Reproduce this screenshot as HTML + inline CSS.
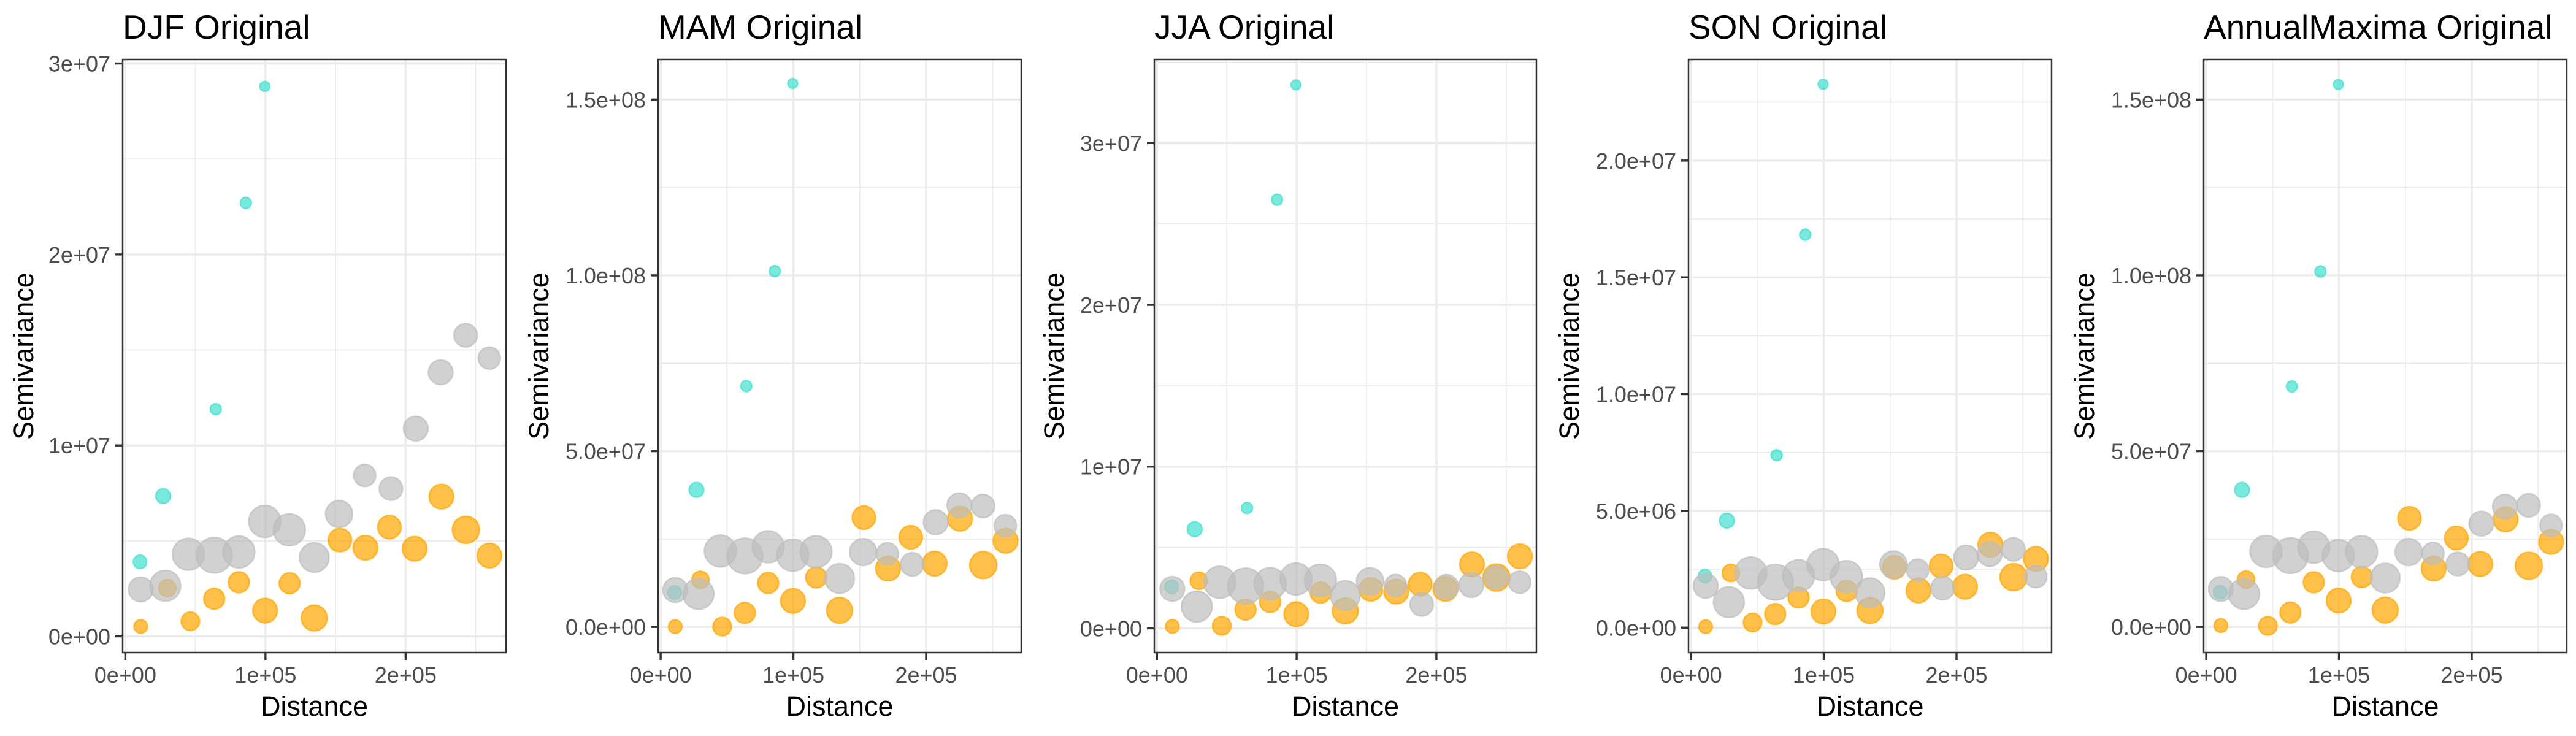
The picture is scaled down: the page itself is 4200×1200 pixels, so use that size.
<!DOCTYPE html>
<html><head><meta charset="utf-8"><style>
html,body{margin:0;padding:0;background:#fff;}
svg{display:block;font-family:"Liberation Sans",Arial,sans-serif;}
</style></head><body>
<svg id="chart" width="4200" height="1200" viewBox="0 0 4200 1200" xmlns="http://www.w3.org/2000/svg"></svg>
<script>
// shared distance bins (x values)
const cyanDist   = [0.105e5, 0.27e5, 0.645e5, 0.86e5, 0.995e5];
const grayDist   = [0.11e5,0.285e5,0.45e5,0.635e5,0.81e5,0.995e5,1.17e5,1.348e5,1.525e5,1.708e5,1.895e5,2.072e5,2.25e5,2.428e5,2.597e5];
const orangeDist = [0.11e5,0.30e5,0.464e5,0.634e5,0.81e5,0.997e5,1.172e5,1.348e5,1.531e5,1.713e5,1.884e5,2.064e5,2.255e5,2.43e5,2.598e5];
// point sizes (radius, px)
const cyanSize   = [11,12,9,9,8];
const graySize   = [20,25,26,29,26,26,26,24,22,18,19,20,20,19,18];
const orangeSize = [11,14,15,17,17,20,17,21,19,20,19,20,20,22,20];

const panelTitles = ["DJF Original","MAM Original","JJA Original","SON Original","AnnualMaxima Original"];

// DJF
const djfCyan   = [0.39e7,0.735e7,1.19e7,2.27e7,2.88e7];
const djfGray   = [0.246e7,0.265e7,0.43e7,0.425e7,0.442e7,0.602e7,0.558e7,0.413e7,0.641e7,0.843e7,0.774e7,1.088e7,1.383e7,1.577e7,1.457e7];
const djfOrange = [0.052e7,0.253e7,0.079e7,0.197e7,0.283e7,0.135e7,0.278e7,0.096e7,0.504e7,0.464e7,0.572e7,0.459e7,0.732e7,0.558e7,0.423e7];
// MAM
const mamCyan   = [0.98e7,3.90e7,6.85e7,10.12e7,15.46e7];
const mamGray   = [1.05e7,0.94e7,2.16e7,2.02e7,2.28e7,2.04e7,2.14e7,1.38e7,2.13e7,2.08e7,1.78e7,2.98e7,3.46e7,3.44e7,2.88e7];
const mamOrange = [0.01e7,1.34e7,0.01e7,0.40e7,1.25e7,0.74e7,1.41e7,0.47e7,3.11e7,1.66e7,2.55e7,1.80e7,3.08e7,1.76e7,2.45e7];
// JJA
const jjaCyan   = [0.256e7,0.613e7,0.744e7,2.65e7,3.36e7];
const jjaGray   = [0.244e7,0.134e7,0.285e7,0.262e7,0.276e7,0.305e7,0.297e7,0.203e7,0.291e7,0.265e7,0.148e7,0.256e7,0.267e7,0.314e7,0.285e7];
const jjaOrange = [0.012e7,0.294e7,0.015e7,0.116e7,0.163e7,0.087e7,0.221e7,0.108e7,0.241e7,0.227e7,0.273e7,0.244e7,0.395e7,0.314e7,0.445e7];
// SON
const sonCyan   = [2.20e6,4.58e6,7.38e6,16.83e6,23.27e6];
const sonGray   = [1.79e6,1.09e6,2.34e6,1.94e6,2.22e6,2.70e6,2.18e6,1.49e6,2.70e6,2.46e6,1.69e6,3.00e6,3.15e6,3.35e6,2.18e6];
const sonOrange = [0.04e6,2.34e6,0.22e6,0.58e6,1.29e6,0.69e6,1.57e6,0.73e6,2.58e6,1.59e6,2.64e6,1.75e6,3.55e6,2.16e6,2.94e6];
// AnnualMaxima
const amCyan    = [0.99e7,3.90e7,6.84e7,10.11e7,15.43e7];
const amGray    = [1.08e7,0.94e7,2.15e7,2.03e7,2.27e7,2.03e7,2.14e7,1.39e7,2.13e7,2.09e7,1.79e7,2.94e7,3.42e7,3.46e7,2.89e7];
const amOrange  = [0.04e7,1.35e7,0.03e7,0.41e7,1.27e7,0.75e7,1.42e7,0.48e7,3.09e7,1.66e7,2.53e7,1.79e7,3.06e7,1.74e7,2.42e7];

// axis ticks
const xTicks = [0, 1e5, 2e5];
const xTickLabels = ["0e+00","1e+05","2e+05"];
const yTicksA = [0,1e7,2e7,3e7];
const yTickLabelsA = ["0e+00","1e+07","2e+07","3e+07"];
const yTicksB = [0,5e7,1e8,1.5e8];
const yTickLabelsB = ["0.0e+00","5.0e+07","1.0e+08","1.5e+08"];
const yTicksC = [0,5e6,1e7,1.5e7,2e7];
const yTickLabelsC = ["0.0e+00","5.0e+06","1.0e+07","1.5e+07","2.0e+07"];
// y domains
const yDomains = [[-0.085e7,3.021e7],[-0.0729e8,1.614e8],[-0.15e7,3.517e7],[-0.107e7,2.433e7],[-0.0729e8,1.614e8]];
const xDomain = [-0.019e5, 2.716e5];

const panels = [
  {cyan:djfCyan, gray:djfGray, orange:djfOrange, yt:yTicksA, ytl:yTickLabelsA, left:200},
  {cyan:mamCyan, gray:mamGray, orange:mamOrange, yt:yTicksB, ytl:yTickLabelsB, left:233},
  {cyan:jjaCyan, gray:jjaGray, orange:jjaOrange, yt:yTicksA, ytl:yTickLabelsA, left:202},
  {cyan:sonCyan, gray:sonGray, orange:sonOrange, yt:yTicksC, ytl:yTickLabelsC, left:233},
  {cyan:amCyan,  gray:amGray,  orange:amOrange,  yt:yTicksB, ytl:yTickLabelsB, left:233}
];

const NS = "http://www.w3.org/2000/svg";
const svg = document.getElementById("chart");
function mk(tag, attrs, parent){
  const e = document.createElementNS(NS, tag);
  for (const k in attrs) e.setAttribute(k, attrs[k]);
  parent.appendChild(e);
  return e;
}
const TOP = 97, BOT = 1064, RIGHT = 825;

panels.forEach((p, i) => {
  const ox = 840 * i;
  const L = ox + p.left, R = ox + RIGHT;
  const [y0, y1] = yDomains[i];
  const xs = v => L + (v - xDomain[0]) / (xDomain[1] - xDomain[0]) * (R - L);
  const ys = v => BOT - (v - y0) / (y1 - y0) * (BOT - TOP);

  const g = mk("g", {}, svg);
  
  

  const bg = mk("rect", {x:L, y:TOP, width:R-L, height:BOT-TOP, fill:"#fff"}, g);
  
  
  for (let k = 0; k < xTicks.length; k++) {
    const mv = xTicks[k] + 0.5e5;
    if (mv < xDomain[1]) {
      const ln = mk("line", {x1:xs(mv), x2:xs(mv), y1:TOP, y2:BOT, stroke:"#ebebeb", "stroke-width":1.7}, g);
      
      
    }
  }
  for (let k = 0; k < p.yt.length; k++) {
    const step = p.yt[1] - p.yt[0];
    const mv = p.yt[k] + step / 2;
    if (mv < y1) {
      const ln = mk("line", {x1:L, x2:R, y1:ys(mv), y2:ys(mv), stroke:"#ebebeb", "stroke-width":1.7}, g);
      
      
    }
  }
  xTicks.forEach((t, k) => {
    const ln = mk("line", {x1:xs(t), x2:xs(t), y1:TOP, y2:BOT, stroke:"#ebebeb", "stroke-width":3.4}, g);
    
    
    const tk = mk("line", {x1:xs(t), x2:xs(t), y1:BOT, y2:BOT+12, stroke:"#333", "stroke-width":3.4}, g);
    
    
    const tx = mk("text", {x:xs(t), y:1113, "text-anchor":"middle", "font-size":36, fill:"#4d4d4d"}, g);
    tx.textContent = xTickLabels[k];
    
    
  });
  p.yt.forEach((t, k) => {
    const ln = mk("line", {x1:L, x2:R, y1:ys(t), y2:ys(t), stroke:"#ebebeb", "stroke-width":3.4}, g);
    
    
    const tk = mk("line", {x1:L-12, x2:L, y1:ys(t), y2:ys(t), stroke:"#333", "stroke-width":3.4}, g);
    
    
    const tx = mk("text", {x:L-20, y:ys(t)+13, "text-anchor":"end", "font-size":36, fill:"#4d4d4d"}, g);
    tx.textContent = p.ytl[k];
    
    
  });

  const series = [
    {vals:p.cyan, dist:cyanDist, size:cyanSize, col:"64,224,208", name:"cyan-point"},
    {vals:p.orange, dist:orangeDist, size:orangeSize, col:"255,165,0", name:"orange-point"},
    {vals:p.gray, dist:grayDist, size:graySize, col:"190,190,190", name:"gray-point"}
  ];
  series.forEach(s => {
    s.vals.forEach((v, k) => {
      const c = mk("circle", {cx:xs(s.dist[k]), cy:ys(v), r:s.size[k],
        fill:"rgba(" + s.col + ",0.7)", stroke:"rgba(" + s.col + ",0.7)", "stroke-width":2.5}, g);
      
      
    });
  });

  const br = mk("rect", {x:L, y:TOP, width:R-L, height:BOT-TOP, fill:"none", stroke:"#333", "stroke-width":2.5}, g);
  
  

  const tt = mk("text", {x:L, y:63, "font-size":55, fill:"#000"}, g);
  tt.textContent = panelTitles[i];
  
  
  const xt = mk("text", {x:(L+R)/2, y:1167, "text-anchor":"middle", "font-size":45, fill:"#000"}, g);
  xt.textContent = "Distance";
  
  
  const cy = (TOP + BOT) / 2, cx = ox + 54;
  const yt = mk("text", {x:cx, y:cy, "text-anchor":"middle", "font-size":45, fill:"#000", transform:"rotate(-90 " + cx + " " + cy + ")"}, g);
  yt.textContent = "Semivariance";
  
  
});
</script>
</body></html>
